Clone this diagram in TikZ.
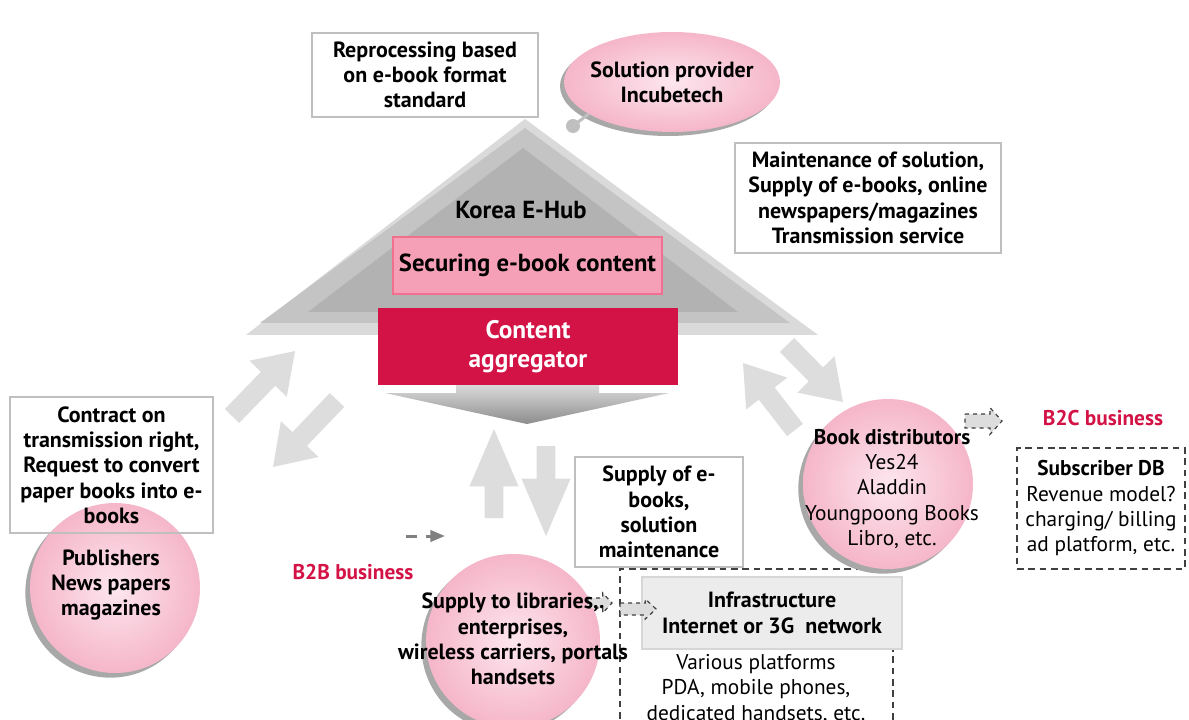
\documentclass[tikz,border=0pt]{standalone}
\usepackage{fontspec}
\setmainfont{PT Sans}
\usetikzlibrary{calc,shadows,arrows.meta,shapes.geometric}

\definecolor{hubred}{RGB}{211,18,70}
\definecolor{boxline}{RGB}{191,191,191}
\definecolor{arrowgray}{RGB}{221,221,221}
\definecolor{pinkedge}{RGB}{245,182,201}
\definecolor{pinkcore}{RGB}{253,230,238}
\definecolor{shadowgray}{RGB}{168,168,168}
\definecolor{pyrA}{RGB}{218,218,218}
\definecolor{pyrB}{RGB}{196,196,196}
\definecolor{pyrC}{RGB}{178,178,178}
\definecolor{dashline}{RGB}{64,64,64}
\definecolor{secpink}{RGB}{245,160,182}
\definecolor{secedge}{RGB}{240,112,142}
\definecolor{infrafill}{RGB}{236,236,236}
\definecolor{infraline}{RGB}{214,214,214}
\definecolor{smallarrow}{RGB}{128,128,128}

% block arrow: style, from, to, shaft half-width, head half-width, head length
\newcommand\blockarrow[6]{%
  \coordinate (ba-h) at ($(#3)!#6!(#2)$);
  \path[#1] ($(#2)!#4!90:(#3)$) -- ($(ba-h)!#4!90:(#3)$) -- ($(ba-h)!#5!90:(#3)$)
    -- (#3) -- ($(ba-h)!#5!-90:(#3)$) -- ($(ba-h)!#4!-90:(#3)$) -- ($(#2)!#4!-90:(#3)$) -- cycle;}

\newcommand\labelfont{\fontsize{16.5}{19}\selectfont\bfseries}
\newcommand\plainfont{\fontsize{16}{19}\selectfont}

\tikzset{
  lbl/.style={font=\labelfont, align=center, inner sep=0pt},
  plain/.style={font=\plainfont, align=center, inner sep=0pt},
  textbox/.style={draw=boxline, line width=1.5pt, align=center, inner sep=0pt, font=\labelfont},
  pinkball/.style={circle, inner sep=0pt, shading=radial, inner color=pinkcore, outer color=pinkedge,
    drop shadow={shadow xshift=-3.5pt, shadow yshift=-3.5pt, fill=shadowgray, opacity=1}},
  bigarrow/.style={fill=arrowgray},
  dasharrow/.style={draw=dashline, fill=arrowgray, dashed, line width=0.9pt},
  bizlabel/.style={font=\fontsize{16}{19}\selectfont\bfseries, text=hubred, inner sep=0pt},
  dashframe/.style={draw=dashline, line width=1.1pt, dash pattern=on 5pt off 3.5pt},
}

\begin{document}
\begin{tikzpicture}[x=0.75pt,y=-0.75pt]
\useasboundingbox (0,0) rectangle (1189,720);
\fill[white] (0,0) rectangle (1189,720);

% ---- pyramid of the hub ----
\fill[pyrA] (525,119) -- (818,335) -- (246,335) -- cycle;
\fill[pyrB] (525,128) -- (790,323) -- (260,323) -- cycle;
\fill[pyrC] (523,148) -- (738,312) -- (308,312) -- cycle;

\node[lbl, font=\fontsize{18.5}{20}\selectfont\bfseries] (hub) at (521,210) {Korea E-Hub};
\node[draw=secedge, line width=1pt, fill=secpink, minimum width=201.75pt, minimum height=42.75pt,
  inner sep=0pt, font=\fontsize{18.5}{20}\selectfont\bfseries] (secure) at (527.5,265.5) {Securing e-book content};

% output chevron under the aggregator
\shade[top color=pyrA, bottom color=black!45]
  (456,385) -- (599,385) -- (599,393) -- (669,393) -- (527,424) -- (385,393) -- (456,393) -- cycle;

\node[fill=hubred, minimum width=225pt, minimum height=57.75pt, inner sep=0pt, align=center,
  text=white, font=\fontsize{19}{22}\selectfont\bfseries] (agg) at (528,346.5) {Content\\aggregator};

% ---- broad flow arrows ----
\coordinate (a1s) at (232,416); \coordinate (a1e) at (295,351);
\coordinate (a2s) at (337,400); \coordinate (a2e) at (273,467);
\coordinate (a3s) at (787,345); \coordinate (a3e) at (843,402);
\coordinate (a4s) at (795,430); \coordinate (a4e) at (743,363);
\coordinate (a5s) at (494,518); \coordinate (a5e) at (494,429);
\coordinate (a6s) at (546,446); \coordinate (a6e) at (546,536);
\blockarrow{bigarrow}{a1s}{a1e}{7.5pt}{19.5pt}{29pt}
\blockarrow{bigarrow}{a2s}{a2e}{7.5pt}{19.5pt}{29pt}
\blockarrow{bigarrow}{a3s}{a3e}{7.5pt}{19.5pt}{29pt}
\blockarrow{bigarrow}{a4s}{a4e}{7.5pt}{19.5pt}{29pt}
\blockarrow{bigarrow}{a5s}{a5e}{7pt}{18.4pt}{43pt}
\blockarrow{bigarrow}{a6s}{a6e}{7pt}{18.4pt}{43pt}

% ---- top notes ----
\node[textbox, fill=white, minimum width=169.5pt, minimum height=63pt] (reproc) at (425,75)
  {Reprocessing based\\on e-book format\\standard};

\node[circle, fill=boxline, minimum size=10.5pt, inner sep=0pt] (tail) at (573,126) {};
\node[ellipse, inner sep=0pt, minimum width=162pt, minimum height=75pt, shading=radial,
  inner color=pinkcore, outer color=pinkedge,
  drop shadow={shadow xshift=-3pt, shadow yshift=-3pt, fill=shadowgray, opacity=1}] (sol) at (672,82) {};
\draw[boxline, line width=2.25pt] (tail.center) -- (sol.201);
\node[lbl] (soltext) at (672,82) {Solution provider\\Incubetech};

\node[textbox, fill=white, minimum width=199.5pt, minimum height=82.5pt] (maint) at (868,198)
  {Maintenance of solution,\\Supply of e-books, online\\newspapers/magazines\\Transmission service};

% ---- publishers ----
\node[pinkball, minimum size=127.5pt] (pub) at (115,588) {};
\node[lbl] (pubtext) at (111,585) {Publishers\\News papers\\magazines};
\node[textbox, minimum width=152.25pt, minimum height=102pt] (contract) at (111.5,465)
  {Contract on\\transmission right,\\Request to convert\\paper books into e-\\books};

% ---- B2B side ----
\coordinate (sa1) at (406,536); \coordinate (sa2) at (445,536);
\draw[smallarrow, line width=2.25pt, dash pattern=on 8.25pt off 6.75pt,
  -{Triangle[length=11pt,width=8.5pt]}] (sa1) -- (sa2);
\node[bizlabel] (b2b) at (353,572) {B2B business};

\node[textbox, fill=white, minimum width=126pt, minimum height=82.5pt] (supply) at (659,512)
  {Supply of e-\\books,\\solution\\maintenance};

\begin{scope}
\clip (0,0) rectangle (1189,720);
\coordinate (fr1) at (620,730); \coordinate (fr2) at (620,569);
\coordinate (fr3) at (893,569); \coordinate (fr4) at (893,730);
\draw[dashframe] (fr1) -- (fr2) -- (fr3) -- (fr4);
\end{scope}
\node[draw=infraline, line width=1.5pt, fill=infrafill, minimum width=195pt, minimum height=54pt,
  inner sep=0pt, align=center, font=\labelfont] (infra) at (772,613)
  {Infrastructure\\Internet or 3G\ \ network};
\node[plain] (platforms) at (756,689) {Various platforms\\PDA, mobile phones,\\dedicated handsets, etc.};

\node[pinkball, minimum size=130.5pt] (lib) at (513,641) {};
\coordinate (d1s) at (588,603); \coordinate (d1e) at (612,603);
\blockarrow{dasharrow}{d1s}{d1e}{3.75pt}{7.5pt}{7pt}
\node[lbl] (libtext) at (513,639) {Supply to libraries,.\\enterprises,\\wireless carriers, portals\\handsets};
\coordinate (d2s) at (620,609); \coordinate (d2e) at (656,609);
\blockarrow{dasharrow}{d2s}{d2e}{4.5pt}{7.5pt}{8pt}

% ---- B2C side ----
\node[pinkball, minimum size=127.5pt] (dist) at (888,484) {};
\node[plain] (disttext) at (892,489)
  {\textbf{Book distributors}\\Yes24\\Aladdin\\Youngpoong Books\\Libro, etc.};

\coordinate (d3s) at (965,421); \coordinate (d3e) at (1002,421);
\blockarrow{dasharrow}{d3s}{d3e}{5.25pt}{10pt}{9pt}
\node[bizlabel] (b2c) at (1103,418) {B2C business};

\node[dashframe, minimum width=126pt, minimum height=90.75pt, inner sep=0pt, align=center,
  font=\plainfont] (subs) at (1101,508.5)
  {\textbf{Subscriber DB}\\Revenue model?\\charging/ billing\\ad platform, etc.};

\end{tikzpicture}
\end{document}
